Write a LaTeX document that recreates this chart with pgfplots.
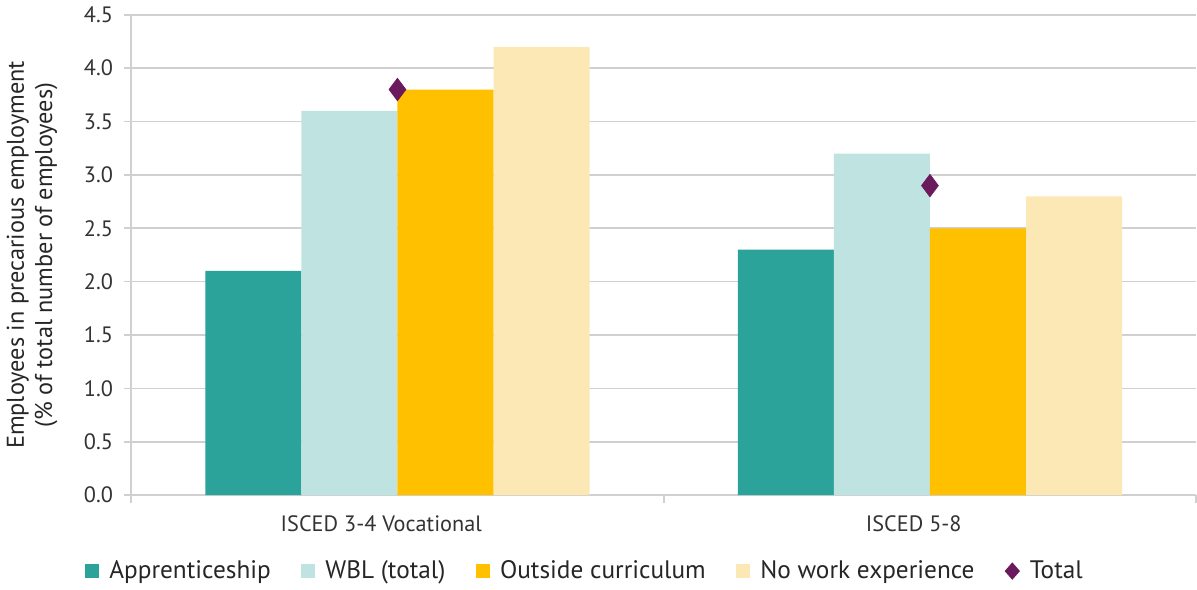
\documentclass[border=0pt]{standalone}
\usepackage{pgfplots}
\pgfplotsset{compat=1.18}
\usepackage{fontspec}
\setmainfont{PT Sans}

\definecolor{appr}{HTML}{2BA39A}
\definecolor{wbl}{HTML}{BFE3E0}
\definecolor{outc}{HTML}{FFC000}
\definecolor{nowork}{HTML}{FBE8B5}
\definecolor{tot}{HTML}{6B1A5E}
\definecolor{gridc}{HTML}{D0D0D0}

\begin{document}
\begin{tikzpicture}
\begin{axis}[
  scale only axis, width=526.5pt, height=237.5pt,
  xmin=-0.5, xmax=1.5, ymin=0, ymax=4.5,
  xtick={0,1}, xticklabels={ISCED 3-4 Vocational, ISCED 5-8},
  major x tick style={draw=none},
  minor xtick={-0.5,0.5,1.5},
  minor x tick style={draw=gridc, thick},
  minor tick length=4pt,
  ytick={0,0.5,...,4.5},
  major tick length=3.5pt,
  tick align=outside,
  ytick style={draw=gridc, thick},
  yticklabel style={xshift=-2pt, /pgf/number format/fixed,
    /pgf/number format/fixed zerofill, /pgf/number format/precision=1},
  /pgf/number format/assume math mode=true,
  ymajorgrids, grid style={gridc, thick},
  axis line style={gridc, thick},
  axis x line*=bottom, axis y line*=left,
  ylabel={Employees in precarious employment\\(\% of total number of employees)},
  every axis y label/.style={at={(axis description cs:-0.093,0.5)}, rotate=90,
    anchor=center, align=center, font=\fontsize{12}{14}\selectfont, text=black!85},
  tick label style={font=\fontsize{11}{12}\selectfont, text=black!80},
  xticklabel style={yshift=-3pt, xshift=-8pt},
  legend style={at={(0.427,-0.158)}, anchor=center, draw=none, legend columns=-1,
    font=\fontsize{12.5}{14}\selectfont, column sep=3pt, text=black!85,
    /tikz/every even column/.append style={column sep=13pt}},
  legend image code/.code={\fill[#1] (0pt,-3.5pt) rectangle (7pt,3.5pt);},
]
\addplot[ybar, bar width=47.5pt, bar shift=-71.25pt, fill=appr, draw=none]
  coordinates {(0,2.1) (1,2.3)};
\addlegendentry{Apprenticeship}
\addplot[ybar, bar width=47.5pt, bar shift=-23.75pt, fill=wbl, draw=none]
  coordinates {(0,3.6) (1,3.2)};
\addlegendentry{WBL (total)}
\addplot[ybar, bar width=47.5pt, bar shift=23.75pt, fill=outc, draw=none]
  coordinates {(0,3.8) (1,2.5)};
\addlegendentry{Outside curriculum}
\addplot[ybar, bar width=47.5pt, bar shift=71.25pt, fill=nowork, draw=none]
  coordinates {(0,4.2) (1,2.8)};
\addlegendentry{No work experience}
\addplot[only marks, mark=diamond*, mark size=5.5pt, color=tot,
  legend image code/.code={\fill[tot] (3.5pt,-4pt) -- (7pt,0pt) -- (3.5pt,4pt) -- (0pt,0pt) -- cycle;}]
  coordinates {(0,3.8) (1,2.9)};
\addlegendentry{Total}
\end{axis}
\end{tikzpicture}
\end{document}
